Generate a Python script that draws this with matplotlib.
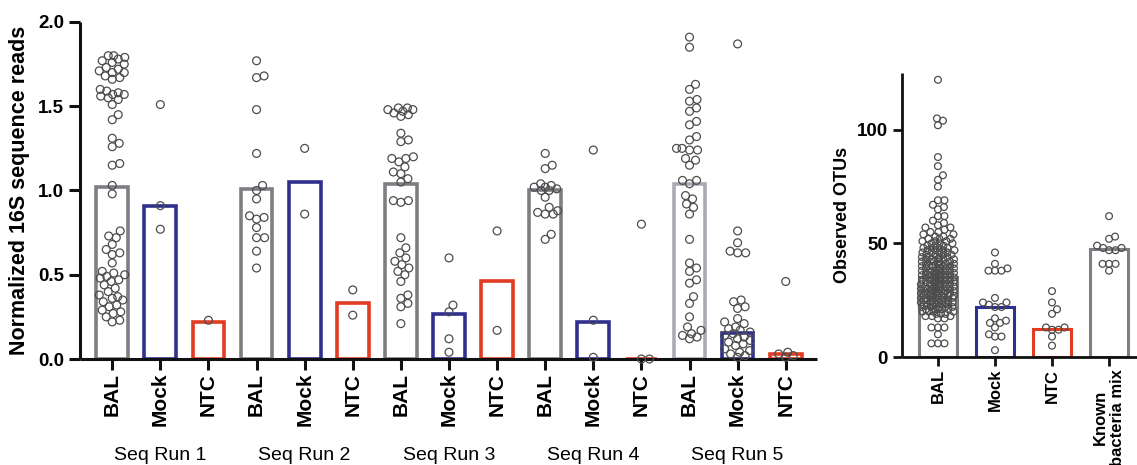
import numpy as np
import matplotlib
matplotlib.use("Agg")
import matplotlib.pyplot as plt
from matplotlib.transforms import blended_transform_factory

plt.rcParams['font.family'] = ['Liberation Sans', 'DejaVu Sans']

# ---------------- Panel A: normalized 16S reads per sequencing run ----------------
runs = ["Seq Run 1", "Seq Run 2", "Seq Run 3", "Seq Run 4", "Seq Run 5"]
sample_types = ["BAL", "Mock", "NTC"]

run1_bal = [1.80, 1.80, 1.79, 1.78, 1.77, 1.76, 1.75, 1.73, 1.72, 1.71, 1.70, 1.70, 1.68,
            1.67, 1.66, 1.60, 1.59, 1.58, 1.57, 1.57, 1.56, 1.55, 1.54, 1.51, 1.45, 1.42,
            1.31, 1.28, 1.26, 1.16, 1.15, 1.03, 0.98, 0.76, 0.73, 0.72, 0.68, 0.65, 0.63,
            0.62, 0.57, 0.52, 0.51, 0.50, 0.49, 0.48, 0.47, 0.46, 0.44, 0.42, 0.40, 0.38,
            0.37, 0.36, 0.35, 0.34, 0.32, 0.31, 0.29, 0.28, 0.27, 0.25, 0.23, 0.22]
run1_mock = [1.51, 0.91, 0.77]
run1_ntc = [0.23]

run2_bal = [1.77, 1.68, 1.67, 1.48, 1.22, 1.03, 1.00, 0.95, 0.85, 0.84, 0.83, 0.78, 0.72,
            0.72, 0.64, 0.54]
run2_mock = [1.25, 0.86]
run2_ntc = [0.41, 0.26]

run3_bal = [1.49, 1.49, 1.48, 1.48, 1.47, 1.46, 1.45, 1.44, 1.34, 1.30, 1.29, 1.20, 1.19,
            1.19, 1.17, 1.14, 1.11, 1.10, 1.07, 1.05, 0.94, 0.94, 0.93, 0.72, 0.66, 0.63,
            0.60, 0.58, 0.56, 0.54, 0.52, 0.50, 0.46, 0.38, 0.36, 0.33, 0.31, 0.21]
run3_mock = [0.60, 0.32, 0.28, 0.12, 0.04]
run3_ntc = [0.76, 0.17]

run4_bal = [1.22, 1.15, 1.13, 1.04, 1.03, 1.02, 1.02, 1.01, 1.00, 1.00, 0.96, 0.90, 0.88,
            0.87, 0.86, 0.86, 0.74, 0.71]
run4_mock = [1.24, 0.23, 0.01]
run4_ntc = [0.80, 0.0, 0.0]

run5_bal = [1.91, 1.85, 1.63, 1.60, 1.54, 1.53, 1.49, 1.47, 1.41, 1.39, 1.32, 1.30, 1.25,
            1.25, 1.24, 1.24, 1.19, 1.18, 1.15, 1.06, 1.06, 1.04, 0.97, 0.95, 0.92, 0.90,
            0.86, 0.71, 0.57, 0.54, 0.52, 0.47, 0.45, 0.37, 0.33, 0.25, 0.19, 0.17, 0.15,
            0.14, 0.13, 0.12]
run5_mock = [1.87, 0.76, 0.69, 0.64, 0.63, 0.63, 0.35, 0.34, 0.31, 0.30, 0.24, 0.22, 0.21,
             0.19, 0.18, 0.17, 0.16, 0.15, 0.14, 0.13, 0.12, 0.11, 0.10, 0.09, 0.08, 0.06,
             0.05, 0.04, 0.03, 0.02, 0.01]
run5_ntc = [0.46, 0.04, 0.03, 0.02, 0.01]

# median per group (bar height), in plotting order
reads_median = [1.02, 0.91, 0.22, 1.01, 1.05, 0.33, 1.04, 0.27, 0.46,
                1.00, 0.22, 0.00, 1.04, 0.155, 0.03]

reads_groups = [run1_bal, run1_mock, run1_ntc, run2_bal, run2_mock, run2_ntc,
                run3_bal, run3_mock, run3_ntc, run4_bal, run4_mock, run4_ntc,
                run5_bal, run5_mock, run5_ntc]

# ---------------- Panel B: observed OTUs ----------------
otu_categories = ["BAL", "Mock", "NTC", "Known\nbacteria mix"]

otu_bal_high = [122, 105, 104, 102, 88, 84, 80, 78, 75, 69, 69, 67, 66, 65, 62, 62, 60]
otu_bal_low = [17, 17, 13, 13, 13, 10, 6, 6, 6]
otu_bal_levels = [18, 19, 20, 21, 22, 23, 24, 25, 26, 27, 28, 29, 30, 31, 32, 33, 34, 35,
                  36, 37, 38, 39, 40, 41, 42, 43, 44, 45, 46, 47, 48, 49, 50, 51, 52, 53,
                  54, 55, 56, 57, 58, 59]
otu_bal_counts = [3, 3, 4, 5, 5, 6, 6, 6, 7, 7, 7, 7, 7, 6, 6, 6, 6, 6,
                  6, 6, 6, 5, 5, 5, 5, 5, 4, 4, 4, 4, 4, 3, 3, 3, 3, 2,
                  2, 2, 1, 2, 1, 1]
otu_mock = [46, 41, 38, 38, 38, 39, 26, 24, 24, 23, 22, 22, 17, 16, 15, 15, 13, 10, 9, 9, 3]
otu_ntc = [29, 24, 21, 19, 13, 13, 12, 12, 9, 5]
otu_known = [62, 53, 52, 49, 48, 48, 47, 47, 41, 41, 41, 38]
otu_median = [35, 22, 12.5, 47.5]

otu_bal = otu_bal_high + list(np.repeat(otu_bal_levels, otu_bal_counts)) + otu_bal_low
otu_groups = [otu_bal, otu_mock, otu_ntc, otu_known]

# ---------------- styling ----------------
GRAY = "#7d7f84"
GRAY_LIGHT = "#a9aab4"
BLUE = "#2f2f8f"
RED = "#e23d22"
DOT = "#4d4d4d"

W, H = 1137, 465
fig = plt.figure(figsize=(W / 100, H / 100), dpi=100)


def frame(px_left, px_right, px_top, px_bottom):
    return [px_left / W, 1 - px_bottom / H, (px_right - px_left) / W, (px_bottom - px_top) / H]


def swarm(ax, xc, values, diam_px, half_px):
    """Beeswarm x positions (data units) that keep markers from overlapping where possible."""
    vals = np.asarray(values, dtype=float)
    ypx = ax.transData.transform(np.column_stack([np.full(len(vals), xc), vals]))[:, 1]
    step = 0.5
    k = np.arange(1, int(half_px / step) + 1) * step
    cand = np.concatenate([[0.0], np.ravel(np.column_stack([k, -k]))])
    off = np.zeros(len(vals))
    px_list, py_list = [], []
    for i in np.argsort(ypx, kind="stable"):
        j = 0
        if px_list:
            px = np.array(px_list)
            py = np.array(py_list)
            dy = py - ypx[i]
            near = np.abs(dy) < diam_px
            if near.any():
                d = np.sqrt((cand[:, None] - px[near][None, :]) ** 2 + dy[near][None, :] ** 2)
                mind = d.min(axis=1)
                for thr in (1.0, 0.85, 0.7, 0.55, 0.4, 0.25, 0.1, 0.0):
                    ok = np.nonzero(mind >= thr * diam_px)[0]
                    if len(ok):
                        j = ok[0]
                        break
        off[i] = cand[j]
        px_list.append(cand[j])
        py_list.append(ypx[i])
    ppu = ax.transData.transform([[1, 0]])[0, 0] - ax.transData.transform([[0, 0]])[0, 0]
    return xc + off / ppu


def style_axes(ax, lw):
    for s in ("top", "right"):
        ax.spines[s].set_visible(False)
    for s in ("left", "bottom"):
        ax.spines[s].set_linewidth(lw)
        ax.spines[s].set_color("#111111")
        ax.spines[s].set_capstyle("butt")


# ---- panel A ----
axA = fig.add_axes(frame(80, 817, 22, 359))
xA = np.arange(len(reads_groups))
axA.set_xlim(-0.67, 14.65)
axA.set_ylim(0, 2.0)
style_axes(axA, 2.2)

colorsA = [GRAY, BLUE, RED] * 4 + [GRAY_LIGHT, BLUE, RED]
axA.bar(xA, reads_median, width=0.66, facecolor="none", edgecolor=colorsA,
        linewidth=2.6, zorder=1)

for xi, vals in zip(xA, reads_groups):
    xs = swarm(axA, xi, vals, diam_px=7.6, half_px=13)
    axA.scatter(xs, vals, s=32, facecolors="none", edgecolors=DOT, linewidths=0.9,
                zorder=3, clip_on=False)

axA.set_yticks([0.0, 0.5, 1.0, 1.5, 2.0])
axA.set_yticklabels(["0.0", "0.5", "1.0", "1.5", "2.0"])
axA.set_xticks(xA)
axA.set_xticklabels(sample_types * len(runs), rotation=90)
axA.tick_params(axis="both", direction="out", length=8, width=2.2, color="#111111")
axA.tick_params(axis="x", pad=2)
for lab in axA.get_yticklabels():
    lab.set_fontsize(13.5)
    lab.set_fontweight("bold")
for lab in axA.get_xticklabels():
    lab.set_fontsize(15)
    lab.set_fontweight("bold")
axA.set_ylabel("Normalized 16S sequence reads", fontsize=15.5, fontweight="bold", labelpad=6)

tA = blended_transform_factory(axA.transData, fig.transFigure)
for r, name in enumerate(runs):
    axA.text(3 * r + 1, 1 - 455 / H, name, transform=tA, ha="center", va="center",
             fontsize=14)

# ---- panel B ----
axB = fig.add_axes(frame(902, 1137, 73, 357))
xB = np.arange(len(otu_groups))
axB.set_xlim(-0.63, 3.49)
axB.set_ylim(0, 125)
style_axes(axB, 2.0)

colorsB = [GRAY, BLUE, RED, GRAY]
axB.bar(xB, otu_median, width=0.68, facecolor="none", edgecolor=colorsB,
        linewidth=2.2, zorder=1)

for xi, vals in zip(xB, otu_groups):
    xs = swarm(axB, xi, vals, diam_px=6.4, half_px=17)
    axB.scatter(xs, vals, s=24, facecolors="none", edgecolors=DOT, linewidths=0.9,
                zorder=3, clip_on=False)

axB.set_yticks([0, 50, 100])
axB.set_xticks(xB)
axB.set_xticklabels(otu_categories, rotation=90, multialignment="center")
axB.tick_params(axis="both", direction="out", length=6.5, width=2.0, color="#111111")
axB.tick_params(axis="x", pad=2)
for lab in axB.get_yticklabels():
    lab.set_fontsize(13.5)
    lab.set_fontweight("bold")
for lab in axB.get_xticklabels():
    lab.set_fontsize(12)
    lab.set_fontweight("bold")
axB.set_ylabel("Observed OTUs", fontsize=13, fontweight="bold", labelpad=4)

fig.savefig("out.png", dpi=100, facecolor="white")
